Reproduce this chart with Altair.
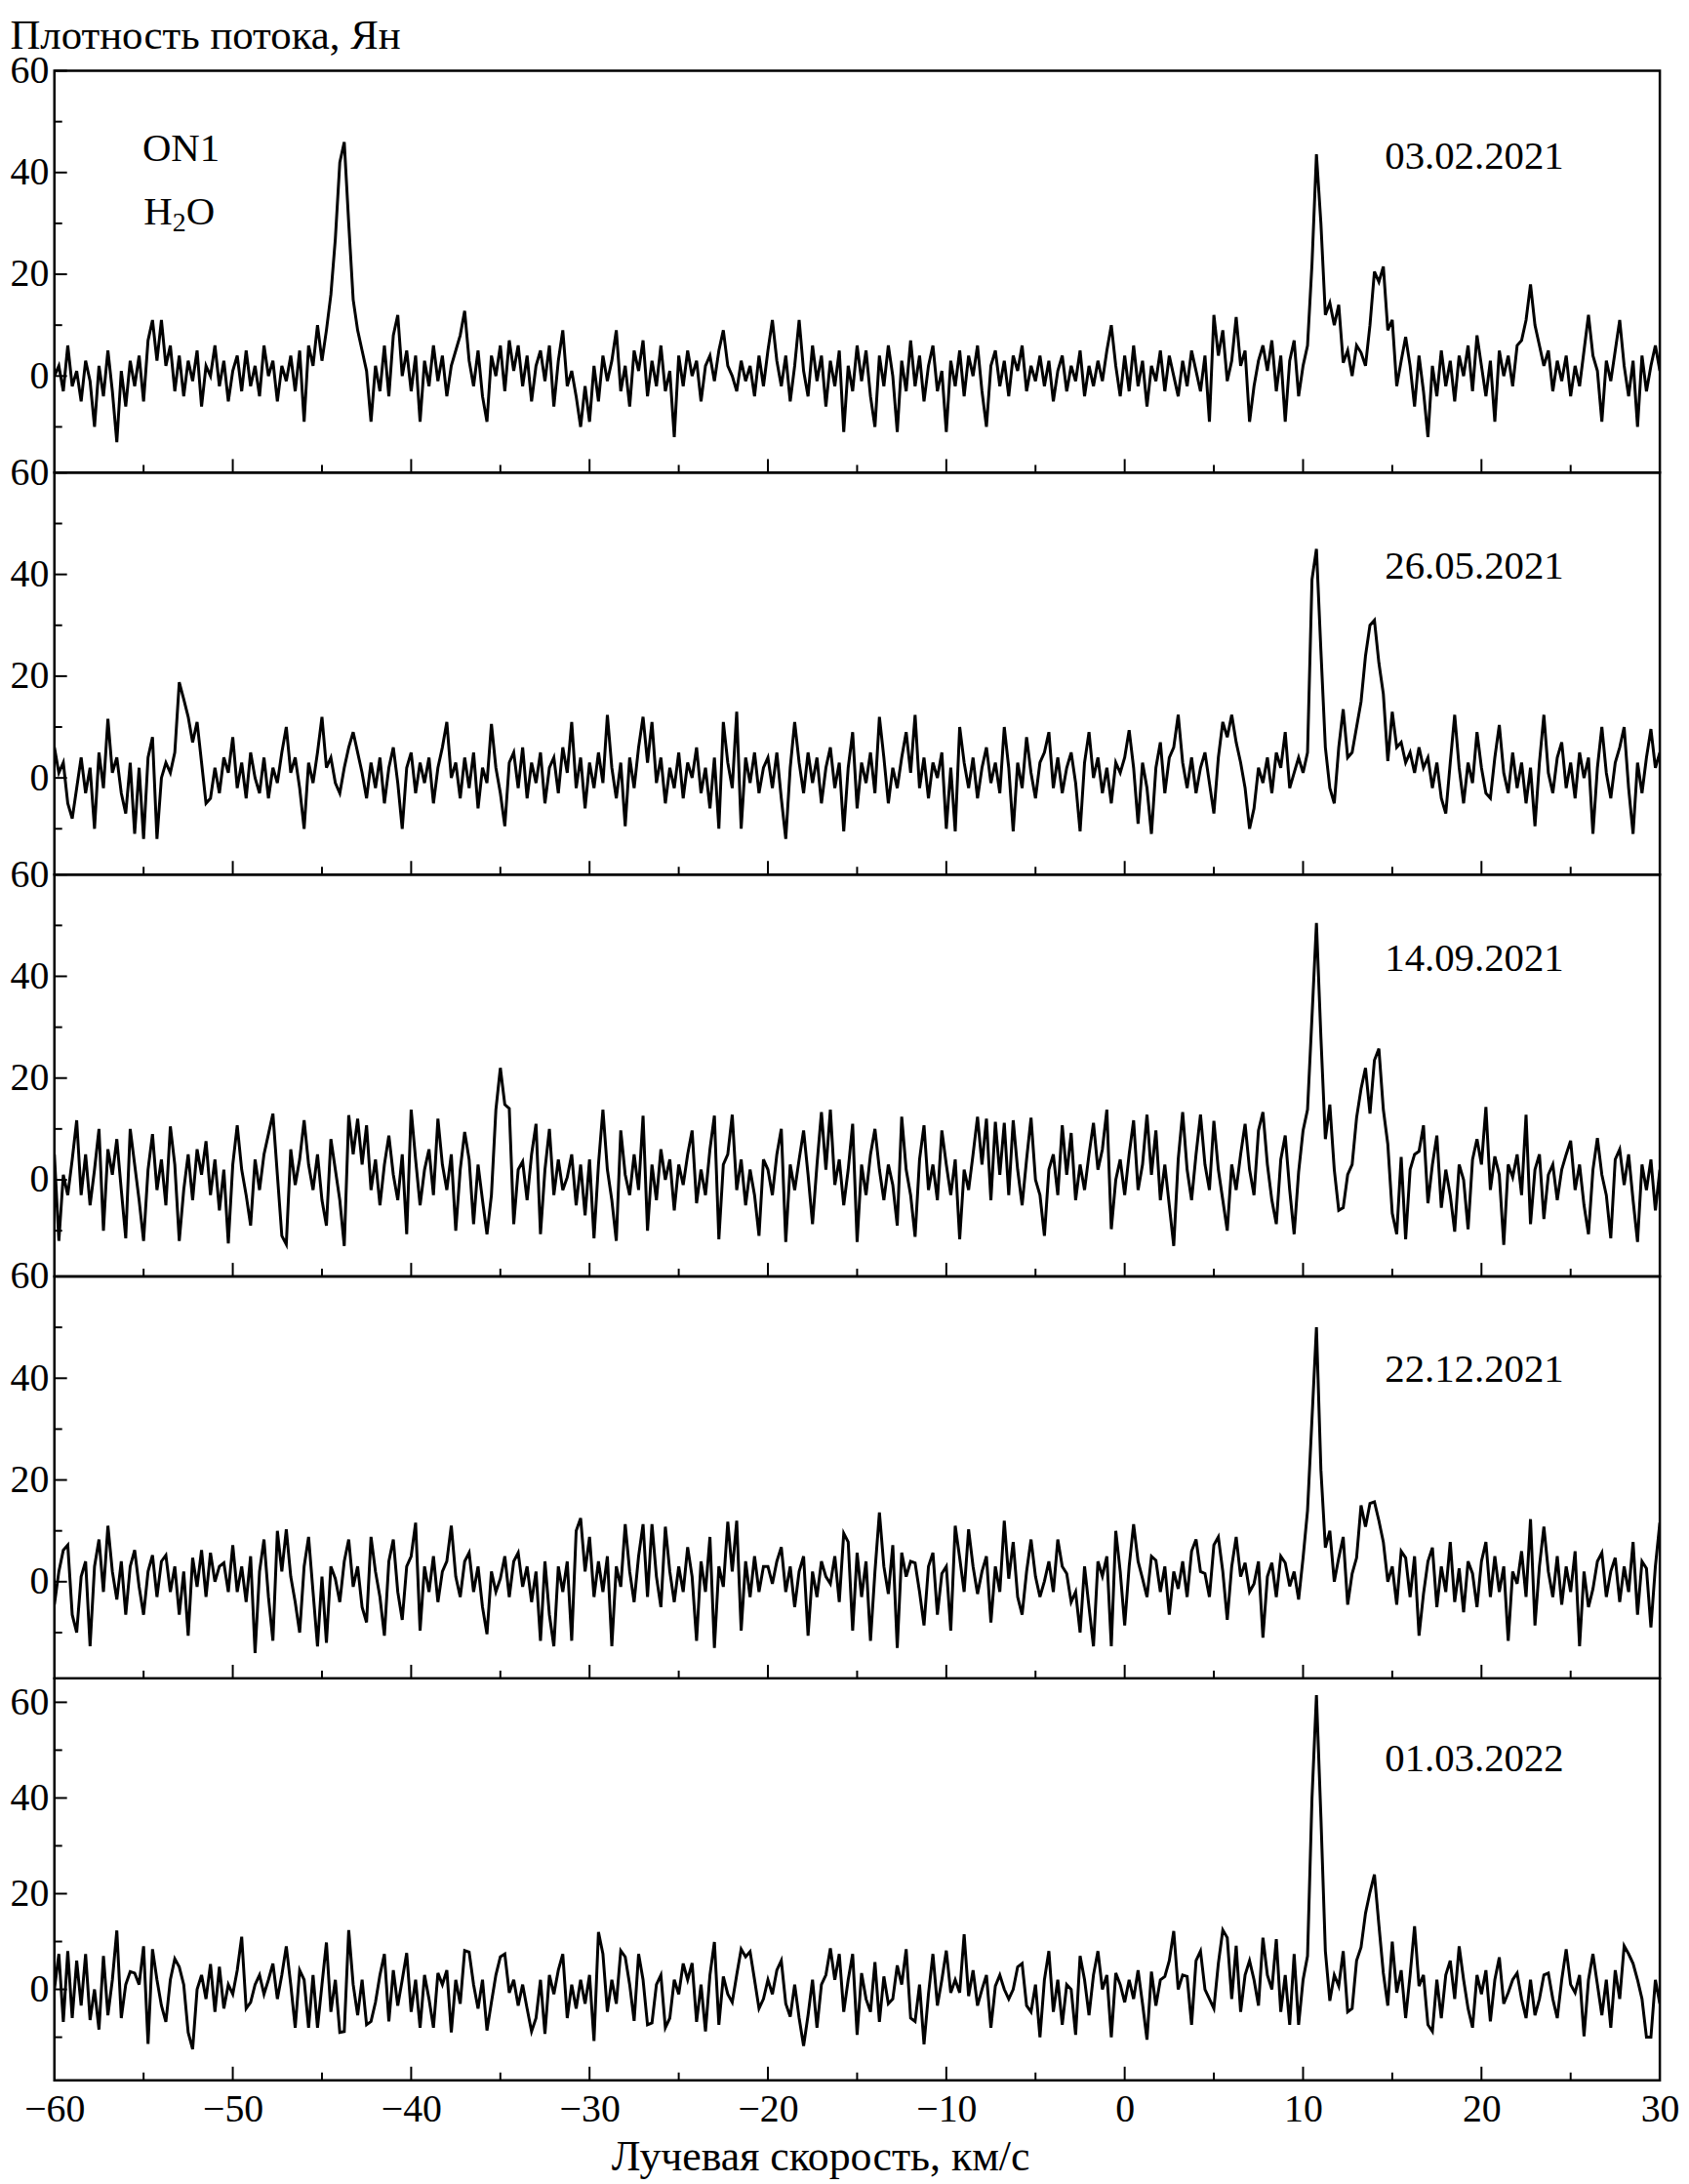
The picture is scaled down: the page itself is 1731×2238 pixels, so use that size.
import altair as alt
import pandas as pd

# ---------------- data ----------------
V0 = -60.0   # first channel, km/s
DV = 0.25    # channel spacing, km/s

P1 = ([0, 2, -3, 6, -2, 1, -5, 3, -1, -10, 2, -4, 5, -3, -13, 1, -6, 3, -2, 4, -5, 7, 11, 3, 11, 2, 6, -3, 4, -4, 3, -1, 5, -6, 2, 0, 6, -2, 3, -5]
      + [1, 4, -3, 5, -2, 2, -4, 6, 0, 3, -5, 2, -1, 4, -3, 5, -9, 6, 2, 10, 3, 9, 16, 27, 42, 46, 30, 15, 9, 5, 1, -9, 2, -3, 6, -4, 8, 12, 0, 5]
      + [-3, 4, -9, 3, -2, 6, -1, 4, -4, 2, 5, 8, 12.8, 3, -2, 5, -4, -9, 4, 0, 6, -3, 7, 1, 6, -2, 4, -5, 2, 5, -1, 6, -6, 3, 9, -2, 1, -4, -10, -2]
      + [-9, 2, -5, 4, -1, 3, 9, -3, 2, -6, 5, 1, 7, -4, 3, -2, 6, -3, 1, -12, 4, -2, 5, 0, 3, -5, 2, 4, -1, 5, 9, 2, 0, -3, 3, -1, 2, -4, 4, -2]
      + [5, 11, 3, -2, 4, -5, 2, 11, 1, -4, 6, -1, 4, -6, 3, -2, 5, -11, 2, -3, 6, -1, 5, -4, -10, 4, -2, 6, 0, -11, 3, -3, 7, -2, 4, -5, 2, 6, -3, 1]
      + [-11, 3, -2, 5, -4, 4, 0, 6, -3, -10, 2, 5, -2, 3, -4, 4, 1, 6, -3, 2, -1, 4, -2, 3, -5, 1, 4, -3, 2, -1, 5, -4, 2, -2, 3, -1, 5, 10, 2, -4]
      + [4, -3, 6, -2, 3, -6, 2, -1, 5, -3, 4, 0, -4, 3, -2, 5, 1, -3, 4, -9, 12, 4, 9, -1, 3, 11.6, 2, 5, -9, -2, 3, 6, 1, 7, -3, 4, -9, 3, 7, -4]
      + [2, 6, 22, 43.6, 30, 12, 14.4, 10, 14, 2.6, 5, 0, 6, 4.6, 2, 10, 20.5, 18.5, 21.5, 9, 11, -2, 3, 7.7, 2, -6, 4, -3, -12, 2, -4, 5, -2, 3, -5, 4, 0, 6, -3, 8]
      + [2, -4, 3, -9, 5, 0, 4, -2, 6, 7, 11, 18, 10, 6, 2, 5, -3, 3, -1, 4, -4, 2, -2, 5, 12, 4, 1, -9, 3, -1, 5, 11, 2, -4, 3, -10, 4, -3, 2, 6, 1])

P2 = ([6, 1, 3, -5, -8, -2, 4, -3, 2, -10, 5, -2, 11.6, 1, 4, -3, -7, 3, -11, 2, -12, 4, 8, -12, 0, 3, 1, 5, 18.8, 15.5, 12, 7, 11, 3, -5, -4, 2, -3, 4, 1]
      + [8, -2, 3, -4, 5, 0, -3, 4, -4, 2, -1, 5, 10, 1, 4, -2, -10, 3, -1, 5, 12, 2, 4, -1, -3, 2, 6, 9, 5, 1, -4, 3, -2, 4, -5, 2, 6, -1, -10, 2]
      + [5, -3, 3, -1, 4, -5, 2, 6, 11, 0, 3, -4, 4, -2, 5, -6, 2, -1, 10.6, 2, -3, -9.5, 3, 5, -2, 6, -4, 3, -1, 5, -5, 2, 4, -3, 6, 1, 11, -2, 4, -6]
      + [3, -2, 5, -1, 12.4, 2, -4, 3, -9.5, 4, -2, 6, 12, 3, 11, -1, 4, -5, 2, -2, 5, -4, 3, 0, 6, -3, 2, -6, 4, -10, 11, 3, -2, 13, -10, 4, -1, 5, -3, 2]
      + [4, -2, 5, -4, -12, 2, 11, 3, -3, 5, -1, 4, -5, 2, 6, -2, 3, -10.5, 2, 9, -6, 3, -1, 5, -3, 12, 4, -5, 2, -2, 4, 9, 1, 12.4, -2, 4, -4, 3, 0, 5]
      + [-10, 2, -10.5, 10, 3, -2, 4, -4, 2, 6, -1, 3, -3, 10, 2, -10.5, 3, -2, 8, 1, -4, 3, 5, 9, -2, 4, -3, 2, 5, -1, -10.5, 3, 9, 0, 4, -3, 2, -5, 3, 1]
      + [4, 9.4, 2, -9, 3, -2, -11, 2, 7, -3, 4, 6, 12.4, 3, -2, 4, -3, 2, 5, -1, -7, 4, 11, 8, 12.4, 7, 3, -2, -10, -6, 2, -1, 4, -3, 5, 2, 9, -2, 1, 4]
      + [1, 5, 39, 45, 25, 6, -2, -5, 6, 13.5, 4, 5, 10, 15, 24, 30, 31, 22.6, 16.5, 3.3, 13, 6, 7, 3, 5, 1, 6, 2, 4, -2, 3, -4, -7, 3, 12.4, 2, -5, 3, -1, 9]
      + [2, -3, -4, 4, 10.4, 1, -3, 5, -2, 3, -5, 2, -9.5, 3, 12.4, 1, -3, 4, 7, -2, 3, -4, 5, 0, 4, -11, 2, 10, 1, -4, 3, 6, 10, -2, -11, 3, -3, 4, 9.6, 2, 5])

P3 = ([5, -12, 1, -3, 4, 11.7, -3, 5, -5, 2, 10, -10, 6, 1, 8, -2, -11.5, 10, 3, -4, -12, 2, 9, -2, 4, -5, 10.5, 3, -12, -2, 5, -4, 6, 1, 7.6, -3, 4, -6, 2, -12.5]
      + [3, 10.7, 2, -3, -9, 4, -2, 5, 9, 13, 1, -11, -12.7, 6, -1, 4, 11.7, 3, -2, 5, -4, -9, 8, 2, -4, -13, 12.7, 5, 12, 3, 10.7, -2, 4, -5, 3, 8.7, 1, -4, 5, -10.7]
      + [13.8, 4, -5, 2, 6, -3, 12, 3, -2, 5, -10, 2, 9.4, 4, -8.7, 3, -4, -10.7, -3, 13.8, 22, 14.8, 14, -8.7, 2, 3.6, -4, 5, 11, -10.7, 2, 10, -3, 4, -2, 0.5, 5, -5, 3, -7]
      + [4, -11.5, 3, 13.8, 2, -4, -12, 9.7, 1, -3, 5, -2, 12.6, -10, 3, -4, 6, 0, 4, -6, 3, -1, 5, 9.7, -4.6, 2, -3, 6, 12.6, -11.7, 3, 5, 12.8, -2, 4, -5, 2, -3, -11, 4]
      + [2, -3, 5, 10, -12.2, 3, -2, 4, 9.7, 1, -8.7, 3, 13.3, 2, 13.8, -1, 4, -5, 2, 11, -12.2, 3, -3, 5, 10, 2, -4, 3, -1, -9, 12.4, 2, -3, -11.2, 4, 10.7, -2, 3, -4, 9.7]
      + [3, -3, 4, -11.7, 2, -2, 5, 12.4, 3, 12, -4, 11.4, 1, 11.2, -3, 11.7, 2, -5, 4, 12.2, 0, -3, -11, 2, 5, -3, 10.7, 1, 9.2, -4, 3, -2, 5, 11.2, 2, 6, 13.8, -9.7, 0, 4]
      + [-3, 5, 11.7, -2, 3, 12.8, 1, 9.7, -4, 3, -5, -13, 4, 13.3, 2, -4, 5, 12.8, 3, -2, 11.6, 2, -4, -10, 3, -2, 5, 11, 2, -3, 9.7, 13.3, 3, -4, -8.7, 4, 8.7, -2, -10.7, 1.5]
      + [9.7, 13.8, 32, 50.5, 28, 8, 14.8, 2, -6, -5.5, 1, 3, 12.2, 17.9, 22, 13, 23.5, 25.8, 13.8, 7, -6.6, -10.7, 4.5, -11.7, 2, 5, 5.6, 10.7, -4.6, 3, 8.7, -5.5, 2, -3, -10.2, 3, 0, -9.7, 4, 8]
      + [3, 14.3, -2, 4.6, 1, -12.8, 3, 0.5, 5, -3, 12.8, -8.7, 2, 5, -7.7, 1, 3, -4, 2, 5, 7.7, -2, 3, -5, -10.7, 2, 8.2, 1, -3, -11.5, 4, 6, -1, 5, -4, -12.2, 3, -2, 4, -6, 2])

P4 = ([-4.5, 2, 6.2, 7.2, -6.5, -10, 1, 4, -12.7, 3, 8.3, -2, 11, 2, -3.5, 4, -6.5, 3, 6.2, -1, -6.5, 2, 5.2, -3, 4, 5.2, -2, 3, -6.5, 2, -10.6, 4.7, -1, 6.2, -3, 5.7, 0, 3, 3.7, -2]
      + [7.2, -2, 3, -4, 5, -14, 2, 8.3, -3, -11.6, 10, 2, 10.3, 1, -4, -10, 3, 8.8, -2, -12.7, 1, -12, 3, 0.6, -4, 4, 8.3, -1, 3, -5, -8, 8.8, 2, -3, -10.6, 4, 8.3, -2, -7.5, 3]
      + [5, 11.6, -9.6, 3, -2, 5, -4, 2, 4, 11, 1, -3, 4, 5.7, -2, 3, -5, -10.3, 2, -2, 0.6, 5, -3, 4, 5.7, -1, 3, -4, 2, -11.6, 4, -6.5, -12.7, 3, -2, 4, -11.6, 10, 12.5, 2]
      + [8.8, -3, 4, -2, 5, -12.7, 3, -1, 11.3, 2, -4, 5, 11.3, -3, 11.3, 1, -5, 10.8, 2, -4, 3, -2, 6.8, 1, -11.6, 4, -2, 8.8, -13, 3, -1, 11.8, 2, 12, -9.6, 4, -3, 5, -2, 3]
      + [3, -0.4, 4, 6.8, -2, 3, -5, 2, 5, -10.6, 2, -3, 4, 1, -0.4, 5, -4, 9.5, 7.8, -9.6, 5.7, -3, 4, -11.6, 2, 13.6, 3, -2.4, 7.2, -13, 5.7, 1, 4, 3.7, -2, -8.6, 3, 5.7, -6.5, 1.6]
      + [3, -9.6, 11, 4.7, -2, 10.3, 3, -2.4, 2, 5, -8, 3, -2, 12, 0.6, 7.8, -3, -6.5, 2, 8.3, 1, -3, 0.1, 4, -2, 8.3, 3, 1.6, -4, -2, -10, 3, -5, -12.7, 4, 1.1, 5, -12.7, 10, 2]
      + [-8.6, 3, 11.3, 4, 0.6, -3, 5, 4.2, -2, 3, -6.5, 2, -1.4, 4, -3, 6, 8.3, 2, 1.6, -3, 7.2, 8.8, 2, -7.5, 3, 8.8, 1, 3.7, -2, -0.4, 4, -11, 1, 3.7, -3, 5, 3.7, -0.9, 2, -3.5]
      + [4.7, 14, 32, 50, 22, 6.7, 10, 0, 4.7, 8.8, -4.5, 1.6, 4.7, 15, 10.8, 15.4, 15.7, 12, 7.8, 0, 3, -4.5, 6, 4.7, -3, 5, -10.6, -2.4, 4, 6.7, -5, 3, -2, 7.8, -4, 2.6, -6, 4, 1.6, -5]
      + [4, 7.8, -3, 5, -2, 3, -11.6, 2, -0.4, 6, -3, 12.3, -8.6, 3, 10.8, 2, -3, 5, -4.5, 3, -2, 6, -12.7, 2, -5, -1.4, 4, 5.7, -3, 2, 4.7, -4, 3, -2, 7.8, -6.5, 4, 2.6, -9, 3, 11.6])

P5 = ([0, 7.4, -6.8, 8, -6, 6, -3.4, 7.4, -6.4, 0, -8.4, 7, -5.4, 2, 12.3, -6, 1, 3.7, 3.4, 1, 9, -11.4, 8.4, 2, -3.4, -6.8, 2, 6.4, 4.7, 1, -9, -12.5, 0, 3, -2, 5.3, -4.7, 4.7, -4, 1]
      + [-1, 4, 11, -4, -2.7, 1, 3, -1, 2, 5.4, -2, 3, 9, 1, -8, 4, 2, -8, 3, -8, 1, 9.8, -4.7, 2, -9, -8.8, 12.4, 1, -5.4, 2, -7.4, -6.7, -2.7, 3, 7.4, -6.7, 4, -3.4, 2, 7.6]
      + [-4.7, 2, -8, 3, -2, -8, 3.4, 1, 4, -9, 2, -3, 8.1, 7.8, 1, -4, 2, -8.6, -2.7, 3, 6.8, 7.4, -0.7, 2, -3.4, 1, -4, -8.8, -6, 2, -9.3, 3, -1, 4, 7.4, -6, 1, -4, 2, -3]
      + [3, -10.8, 12, 7.4, -4.7, 2, -3, 8.1, 6.8, 1, -6.6, 7.4, 2, -7.4, -7, 1, 3, -8, -6, 2, -1, 5.4, 2, 5.5, -6.8, 1, -8.8, 3, 9.9, -7.4, 2.7, -1, -2.7, 3, 8.4, 6.8, 7.9, 2, -4, -2]
      + [2, -1, 4, 6, -3, -5.7, 1, -6, -11.8, -5.4, 2, -8, 1, 3, 8.6, 2, 7.4, -4.7, 2, 7.4, -9.5, 3.4, -2, -4.7, 5.7, -6.8, 2.7, -3, -2, 5, 1, 8.4, -6, -6.7, 1, -11.5, -1, 7.4, -3.4, 2]
      + [8.1, -0.7, 2, -0.7, 11.5, -1.4, 4, -3.4, 0, 3, -8, 0.7, 3, 0, -2, 0, 4.7, 5.4, -3.4, -4.7, 1, -10, 2, 8, -4.7, 2, -7.4, 1, 0, -9.5, 7, 2, -5.4, 3, 8, 0, 3, -10, 3.4, 1]
      + [-2.7, 2, -2, 4, -3, -10.5, 3.7, -3.4, 2, 2.7, 6, 12.2, 0, 3, 2.7, -7.4, 6, 8, 0, -2, -4, 5.4, 12.4, 10.8, -2, 9.1, -4.7, 3, 6, 2, -3.4, 10.8, 3, 0, 10.5, -4.7, 3, -7.4, 7.4, -7.4]
      + [2, 7, 40, 61.5, 36, 8, -2.4, 3, 0.7, 8, -4.7, -4, 6, 8.8, 15.9, 20.3, 24, 13.5, 3.4, -3.4, 10, -0.7, 4, -6, 3, 13.2, 0.7, 3, -7.4, -8.8, 2, -6, 3, 6, -2, 9, 2, -4, -8, 3]
      + [-1, 4, -6.7, 2, 6.7, -3, -0.7, 2, 3.4, -2, -6, 2, -5.4, -2, 3, 3.4, -2, -6, 2, 8.4, 1, -0.7, 3, -9.8, 2, 7.4, 1, -5.4, 2, -8, 4, -2, 9.1, 7.4, 5.4, 2, -2, -10, -10, 2, -3])

SPECTRA = [P1, P2, P3, P4, P5]
DATES = ["03.02.2021", "26.05.2021", "14.09.2021", "22.12.2021", "01.03.2022"]
DATE_X = 19.6
DATE_Y = [43, 41.5, 43.4, 41.5, 48]
Y_DOMAINS = [[-19, 60], [-19, 60], [-19, 60], [-19, 60], [-19, 65]]

X_LABELS = [-60, -50, -40, -30, -20, -10, 0, 10, 20, 30]
X_MAJOR = [-50, -40, -30, -20, -10, 0, 10, 20]
X_MINOR = [-55, -45, -35, -25, -15, -5, 5, 15, 25]
Y_MAJOR = [0, 20, 40, 60]
Y_MINOR = [-10, 10, 30, 50]

SOURCE = "ON1"
SOURCE_XY = (-52.9, 44.5)
MOLECULE = ["H", "2", "O"]
MOLECULE_XY = (-53.0, 32.0)

Y_TITLE = "Плотность потока, Ян"
X_TITLE = "Лучевая скорость, км/с"

# ---------------- style ----------------
W = 1654
H = 414
FONT = "Liberation Serif, Times New Roman, serif"
TICK_FS = 40
TEXT_FS = 41

for s in SPECTRA:
    assert len(s) == 361, len(s)


def panel(k):
    vals = SPECTRA[k]
    df = pd.DataFrame({"v": [V0 + DV * i for i in range(len(vals))], "s": vals})
    xs = alt.Scale(domain=[-60, 30], nice=False, zero=False)
    ys = alt.Scale(domain=Y_DOMAINS[k], nice=False, zero=False)

    if k == 4:
        xenc = alt.X("v:Q", scale=xs, title=X_TITLE,
                     axis=alt.Axis(values=X_LABELS, ticks=False, domain=False, grid=False,
                                   labelFont=FONT, labelFontSize=TICK_FS, labelColor="black",
                                   labelPadding=10, labelFlush=False, labelOverlap=False,
                                   titleFont=FONT, titleFontSize=44, titleFontWeight="normal",
                                   titleColor="black", titlePadding=7, titleX=789))
    else:
        xenc = alt.X("v:Q", scale=xs, axis=None)

    yaxis_common = dict(values=Y_MAJOR, ticks=False, domain=False, grid=False,
                        labelFont=FONT, labelFontSize=TICK_FS, labelColor="black",
                        labelPadding=6, labelFlush=False, labelOverlap=False)
    if k == 0:
        yenc = alt.Y("s:Q", scale=ys, title=Y_TITLE,
                     axis=alt.Axis(**yaxis_common, titleAngle=0, titleAlign="left",
                                   titleBaseline="alphabetic", titleX=-46, titleY=-23,
                                   titleFont=FONT, titleFontSize=43,
                                   titleFontWeight="normal", titleColor="black"))
    else:
        yenc = alt.Y("s:Q", scale=ys, title=None, axis=alt.Axis(**yaxis_common))

    line = alt.Chart(df).mark_line(color="black", strokeWidth=3, clip=True).encode(x=xenc, y=yenc)

    ymaj = alt.Chart(pd.DataFrame({"s": Y_MAJOR})).mark_rule(color="black", strokeWidth=2).encode(
        y=yenc, x=alt.value(0), x2=alt.value(13))
    ymin = alt.Chart(pd.DataFrame({"s": Y_MINOR})).mark_rule(color="black", strokeWidth=2).encode(
        y=yenc, x=alt.value(0), x2=alt.value(8))
    xmaj = alt.Chart(pd.DataFrame({"v": X_MAJOR})).mark_rule(color="black", strokeWidth=2).encode(
        x=xenc, y=alt.value(H), y2=alt.value(H - 14))
    xmin = alt.Chart(pd.DataFrame({"v": X_MINOR})).mark_rule(color="black", strokeWidth=2).encode(
        x=xenc, y=alt.value(H), y2=alt.value(H - 8))

    date = alt.Chart(pd.DataFrame({"v": [DATE_X], "s": [DATE_Y[k]], "t": [DATES[k]]})).mark_text(
        font=FONT, fontSize=TEXT_FS, color="black", align="center", baseline="middle").encode(
        x=xenc, y=yenc, text="t:N")

    layers = [line, ymaj, ymin, xmaj, xmin, date]

    if k == 0:
        src = alt.Chart(pd.DataFrame({"v": [SOURCE_XY[0]], "s": [SOURCE_XY[1]], "t": [SOURCE]})).mark_text(
            font=FONT, fontSize=TEXT_FS, color="black", align="center", baseline="middle").encode(
            x=xenc, y=yenc, text="t:N")
        mdf = pd.DataFrame({"v": [MOLECULE_XY[0]], "s": [MOLECULE_XY[1]],
                            "a": [MOLECULE[0]], "b": [MOLECULE[1]], "c": [MOLECULE[2]]})
        h = alt.Chart(mdf).mark_text(font=FONT, fontSize=TEXT_FS, color="black", align="right",
                                     baseline="middle", dx=-7).encode(x=xenc, y=yenc, text="a:N")
        two = alt.Chart(mdf).mark_text(font=FONT, fontSize=28, color="black", align="center",
                                       baseline="middle", dy=11).encode(x=xenc, y=yenc, text="b:N")
        o = alt.Chart(mdf).mark_text(font=FONT, fontSize=TEXT_FS, color="black", align="left",
                                     baseline="middle", dx=7).encode(x=xenc, y=yenc, text="c:N")
        layers += [src, h, two, o]

    return alt.layer(*layers).properties(width=W, height=H)


chart = alt.vconcat(*[panel(k) for k in range(5)], spacing=0, bounds="flush").properties(
    padding={"left": 0, "top": 0, "right": 0, "bottom": 0}
).configure_view(stroke="black", strokeWidth=2.5)

chart.save("out.html", embed_options={"renderer": "svg", "actions": False})
